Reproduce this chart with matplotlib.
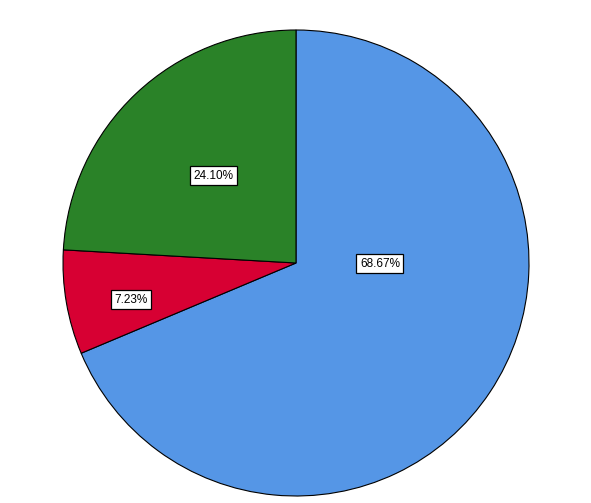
import numpy as np
import matplotlib.pyplot as plt

# slice data (clockwise from 12 o'clock)
values = [68.67, 7.23, 24.10]
colors = ['#5596e6', '#d70033', '#2a8228']
label_dist = [0.36, 0.726, 0.515]
label_angle = [-0.5, 192.6, 133.3]

fig = plt.figure(figsize=(5.91, 5.03), dpi=100)
cx, cy, r = 296, 263, 233
W, H = 591, 503
ax = fig.add_axes([(cx - r) / W, (H - cy - r) / H, 2 * r / W, 2 * r / H])

wedges, _ = ax.pie(values, colors=colors, startangle=90, counterclock=False,
                   wedgeprops=dict(edgecolor='black', linewidth=0.8))
ax.set_xlim(-1, 1)
ax.set_ylim(-1, 1)

for i in range(len(values)):
    a = np.deg2rad(label_angle[i])
    x = label_dist[i] * np.cos(a)
    y = label_dist[i] * np.sin(a)
    ax.text(x, y, '%.2f%%' % values[i], ha='center', va='center',
            fontsize=8.5, family='Liberation Sans',
            bbox=dict(boxstyle='square,pad=0.3', fc='white', ec='black', lw=0.9))

fig.savefig('out.png', dpi=100)
